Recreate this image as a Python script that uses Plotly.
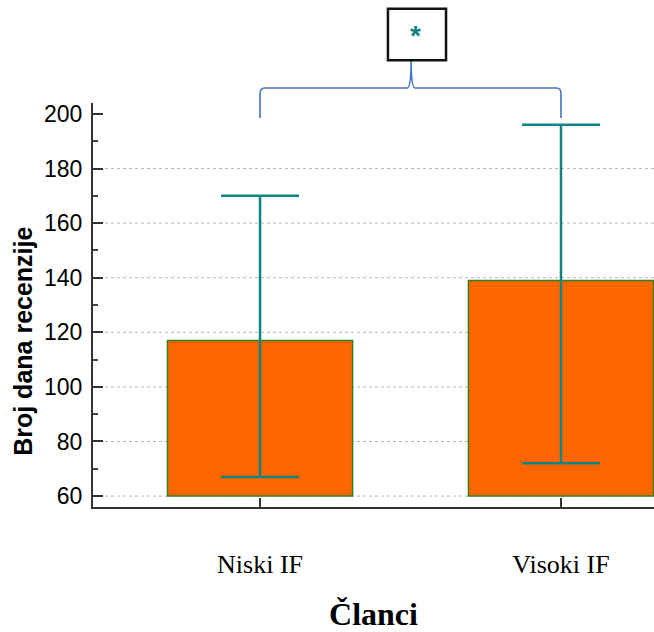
import plotly.graph_objects as go

# ---- data ----
categories = ["Niski IF", "Visoki IF"]
means = [117, 139]
upper_vals = [170, 196]
lower_vals = [67, 72]
bar_base = 60
y_tick_vals = [60, 80, 100, 120, 140, 160, 180, 200]
grid_vals = [60, 80, 100, 120, 140, 160, 180]
signif_label = "*"
y_title = "Broj dana recenzije"
x_title = "Članci"

heights = [m - bar_base for m in means]
err_plus = [u - m for u, m in zip(upper_vals, means)]
err_minus = [m - l for m, l in zip(means, lower_vals)]

fig = go.Figure()
fig.add_trace(go.Bar(
    x=categories, y=heights, base=[bar_base] * len(categories),
    width=0.615,
    marker=dict(color="#FF6600", line=dict(color="#2F7F24", width=1.5)),
    error_y=dict(type="data", array=err_plus, arrayminus=err_minus,
                 color="#128383", thickness=2.5, width=39),
    showlegend=False,
))

shapes = []
for g in grid_vals:
    shapes.append(dict(type="line", xref="paper", yref="y", x0=0, x1=1, y0=g, y1=g,
                       line=dict(color="#b5b5b5", width=1, dash="dot"), layer="below"))

# bracket (curly brace) between the two categories
yb0, yb1, ypk = 0.963, 1.037, 1.106
brace = (f"M 0,{yb0} L 0,{yb1-0.015} Q 0,{yb1} 0.015,{yb1} "
         f"L 0.488,{yb1} Q 0.502,{yb1} 0.502,{ypk} Q 0.502,{yb1} 0.516,{yb1} "
         f"L 0.985,{yb1} Q 1,{yb1} 1,{yb1-0.015} L 1,{yb0}")
shapes.append(dict(type="path", xref="x", yref="paper", path=brace,
                   line=dict(color="#4472C4", width=1.6)))
shapes.append(dict(type="rect", xref="x", yref="paper", x0=0.425, x1=0.618,
                   y0=1.106, y1=1.233, line=dict(color="#111111", width=2.5),
                   fillcolor="white"))

fig.update_layout(
    width=654, height=632,
    margin=dict(l=93, r=0, t=103, b=125),
    paper_bgcolor="white", plot_bgcolor="white",
    shapes=shapes,
    annotations=[
        dict(x=0.515, xref="x", y=1.21, yref="paper", text=f"<b>{signif_label}</b>",
             showarrow=False, font=dict(family="Liberation Sans", size=28, color="#128383")),
        dict(x=-0.125, xref="paper", y=0.411, yref="paper", text=f"<b>{y_title}</b>",
             textangle=-90, showarrow=False, xanchor="center", yanchor="middle",
             font=dict(family="Liberation Sans", size=25, color="black")),
    ],
    xaxis=dict(
        range=[-0.555, 1.309], showline=True, linecolor="#333333", linewidth=2,
        ticks="inside", ticklen=9, tickwidth=2, tickcolor="#333333",
        showgrid=False, zeroline=False,
        tickfont=dict(family="Liberation Serif", size=26, color="black"),
        ticklabelstandoff=33,
        title=dict(text=f"<b>{x_title}</b>", standoff=29,
                   font=dict(family="Liberation Serif", size=32, color="black")),
    ),
    yaxis=dict(
        range=[56, 204], tickvals=y_tick_vals, showline=True, linecolor="#333333", linewidth=2,
        ticks="inside", ticklen=10, tickwidth=2, tickcolor="#333333",
        minor=dict(dtick=10, tick0=0, ticks="inside", ticklen=5, tickwidth=1.5,
                   tickcolor="#444444", showgrid=False),
        showgrid=False, zeroline=False,
        tickfont=dict(family="Liberation Sans", size=23, color="black"),
        ticklabelstandoff=4,
    ),
)

fig.write_html("out.html", config={"displayModeBar": False},
               post_script="document.body.style.margin='0';document.body.style.overflow='hidden';")
